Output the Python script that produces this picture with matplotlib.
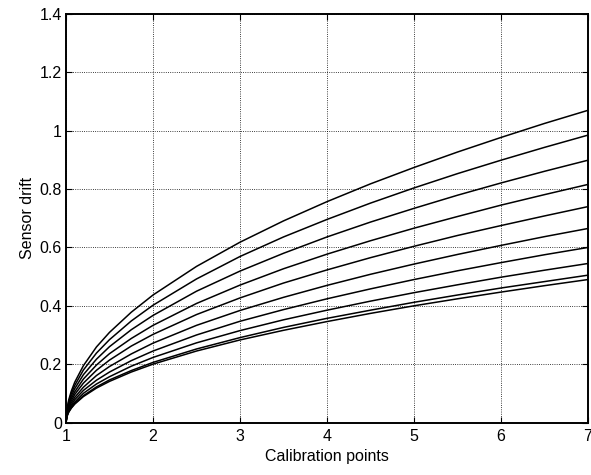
import matplotlib
matplotlib.use('Agg')
import matplotlib.pyplot as plt

# Puntos de calibración (eje x)
x = [1, 1.01, 1.03, 1.06, 1.1, 1.2, 1.35, 1.5, 1.75, 2,
     2.5, 3, 3.5, 4, 4.5, 5, 5.5, 6, 6.5, 7]

# Deriva del sensor, una lista por curva
deriva1 = [0, 0.044, 0.076, 0.107, 0.138, 0.195, 0.259, 0.309, 0.378, 0.437,
           0.535, 0.618, 0.691, 0.757, 0.818, 0.874, 0.927, 0.977, 1.025, 1.070]
deriva2 = [0, 0.040, 0.070, 0.099, 0.127, 0.180, 0.238, 0.284, 0.348, 0.402,
           0.492, 0.569, 0.636, 0.696, 0.752, 0.804, 0.853, 0.899, 0.943, 0.985]
deriva3 = [0, 0.037, 0.064, 0.090, 0.116, 0.164, 0.217, 0.260, 0.318, 0.367,
           0.450, 0.519, 0.580, 0.636, 0.687, 0.734, 0.779, 0.821, 0.861, 0.899]
deriva4 = [0, 0.033, 0.058, 0.082, 0.105, 0.149, 0.197, 0.236, 0.288, 0.333,
           0.408, 0.471, 0.527, 0.577, 0.623, 0.666, 0.706, 0.745, 0.781, 0.816]
deriva5 = [0, 0.030, 0.052, 0.074, 0.096, 0.135, 0.179, 0.214, 0.262, 0.302,
           0.370, 0.427, 0.478, 0.523, 0.565, 0.604, 0.641, 0.675, 0.708, 0.740]
deriva6 = [0, 0.027, 0.047, 0.067, 0.086, 0.121, 0.161, 0.192, 0.235, 0.272,
           0.333, 0.384, 0.429, 0.470, 0.508, 0.543, 0.576, 0.607, 0.637, 0.665]
deriva7 = [0, 0.025, 0.042, 0.060, 0.078, 0.110, 0.145, 0.173, 0.212, 0.245,
           0.300, 0.347, 0.387, 0.424, 0.458, 0.490, 0.520, 0.548, 0.575, 0.600]
deriva8 = [0, 0.022, 0.039, 0.055, 0.070, 0.100, 0.132, 0.157, 0.193, 0.223,
           0.273, 0.315, 0.352, 0.385, 0.416, 0.445, 0.472, 0.498, 0.522, 0.545]
deriva9 = [0, 0.021, 0.036, 0.050, 0.065, 0.092, 0.122, 0.146, 0.178, 0.206,
           0.252, 0.291, 0.326, 0.357, 0.385, 0.412, 0.437, 0.461, 0.483, 0.505]
deriva10 = [0, 0.020, 0.035, 0.049, 0.063, 0.089, 0.118, 0.141, 0.173, 0.200,
            0.245, 0.283, 0.316, 0.346, 0.374, 0.400, 0.424, 0.447, 0.469, 0.490]

curvas = [deriva1, deriva2, deriva3, deriva4, deriva5,
          deriva6, deriva7, deriva8, deriva9, deriva10]

# Marcas de los ejes
xticks = [1, 2, 3, 4, 5, 6, 7]
yticks = [0, 0.2, 0.4, 0.6, 0.8, 1, 1.2, 1.4]
ytick_labels = ['0', '0.2', '0.4', '0.6', '0.8', '1', '1.2', '1.4']

plt.rcParams['font.family'] = ['Liberation Sans', 'DejaVu Sans']

fig = plt.figure(figsize=(5.91, 4.75), dpi=100)
ax = fig.add_axes([0.1117, 0.1105, 0.8833, 0.86])

# Se dibujan las curvas
for y in curvas:
    ax.plot(x, y, color='black', linewidth=1.1)

ax.set_xlim(1, 7)
ax.set_ylim(0, 1.4)
ax.set_xticks(xticks)
ax.set_yticks(yticks)
ax.set_yticklabels(ytick_labels)

# Rejilla punteada estilo MATLAB
ax.grid(True, linestyle=':', color='black', linewidth=0.6)
ax.tick_params(direction='in', top=True, right=True, labelsize=11.5, length=4,
               pad=3)
ax.tick_params(axis='x', pad=5)
for s in ax.spines.values():
    s.set_linewidth(1.4)

ax.set_xlabel('Calibration points', fontsize=11.5, labelpad=3)
ax.set_ylabel('Sensor drift', fontsize=11.5, labelpad=3)

fig.savefig('out.png', dpi=100)
